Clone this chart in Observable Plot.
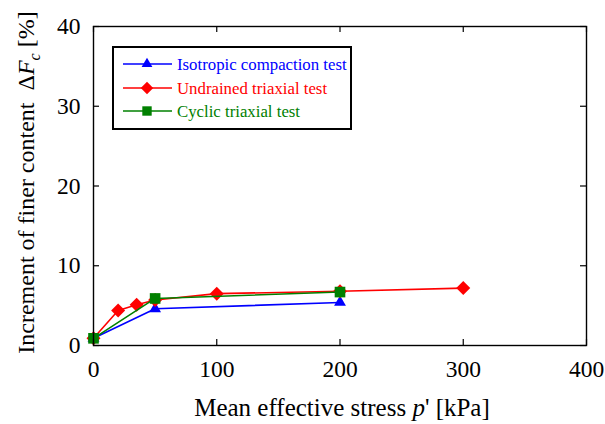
<!DOCTYPE html>
<html>
<head>
<meta charset="utf-8">
<script src="https://cdn.jsdelivr.net/npm/d3@7"></script>
<script src="https://cdn.jsdelivr.net/npm/@observablehq/plot@0.6"></script>
<style>
  body { margin: 0; background: #fff; }
  #chart svg { display: block; background: #fff; overflow: visible; }
</style>
</head>
<body>
<div id="chart"></div>
<script>
// Tick values
const xTicks = [0, 100, 200, 300, 400];
const yTicks = [0, 10, 20, 30, 40];

// Isotropic compaction test
const isoP = [0, 50, 200];
const isoDF = [0.9, 4.6, 5.4];

// Undrained triaxial test
const undP = [0, 20, 35, 50, 100, 200, 300];
const undDF = [0.9, 4.4, 5.1, 5.7, 6.5, 6.8, 7.2];

// Cyclic triaxial test
const cycP = [0, 50, 200];
const cycDF = [0.9, 5.9, 6.7];

const seriesNames = ["Isotropic compaction test", "Undrained triaxial test", "Cyclic triaxial test"];
const seriesColors = ["#0000ff", "#ff0000", "#008000"];
const seriesSymbols = ["triangle", "diamond2", "square"];
const seriesR = [4.4, 6.3, 6.0];

const toRows = (P, F) => P.map((p, i) => ({p, df: F[i]}));
const series = [toRows(isoP, isoDF), toRows(undP, undDF), toRows(cycP, cycDF)];

const W = 605, H = 424;
const mTop = 26, mRight = 19, mBottom = 79, mLeft = 93;
const frameH = H - mTop - mBottom, frameW = W - mLeft - mRight;
const tick = 6;
const font = "'Liberation Serif', 'Times New Roman', serif";

const marks = [];
series.forEach((rows, i) => {
  marks.push(Plot.line(rows, {x: "p", y: "df", stroke: seriesColors[i], strokeWidth: 1.6}));
  marks.push(Plot.dot(rows, {x: "p", y: "df", symbol: () => seriesSymbols[i], r: seriesR[i], fill: seriesColors[i], stroke: "none"}));
});

const plot = Plot.plot({
  width: W, height: H,
  marginTop: mTop, marginRight: mRight, marginBottom: mBottom, marginLeft: mLeft,
  style: {fontFamily: font, background: "#fff"},
  x: {domain: [0, 400]},
  y: {domain: [0, 40]},
  symbol: {domain: seriesSymbols, range: seriesSymbols},
  marks: [
    ...marks,
    // inward ticks on all four sides
    Plot.ruleX(xTicks, {x: d => d, insetTop: frameH - tick, stroke: "#000", strokeWidth: 1.2}),
    Plot.ruleX(xTicks, {x: d => d, insetBottom: frameH - tick, stroke: "#000", strokeWidth: 1.2}),
    Plot.ruleY(yTicks, {y: d => d, insetRight: frameW - tick, stroke: "#000", strokeWidth: 1.2}),
    Plot.ruleY(yTicks, {y: d => d, insetLeft: frameW - tick, stroke: "#000", strokeWidth: 1.2}),
    Plot.frame({stroke: "#000", strokeWidth: 1.4}),
    Plot.axisX({ticks: xTicks, tickSize: 0, tickPadding: 15, fontSize: 23.5, label: null, fill: "#000"}),
    Plot.axisY({ticks: yTicks, tickSize: 0, tickPadding: 13, fontSize: 23.5, label: null, fill: "#000"})
  ]
});

document.getElementById("chart").appendChild(plot);

const svg = d3.select(plot);

// x-axis title
const xt = svg.append("text")
  .attr("x", 342).attr("y", 416)
  .attr("text-anchor", "middle")
  .attr("font-family", font).attr("font-size", 25).attr("fill", "#000");
xt.append("tspan").text("Mean effective stress ");
xt.append("tspan").attr("font-style", "italic").text("p");
xt.append("tspan").text("' [kPa]");

// y-axis title
const yt = svg.append("text")
  .attr("transform", `translate(34,182.5) rotate(-90)`)
  .attr("text-anchor", "middle")
  .attr("font-family", font).attr("font-size", 24).attr("fill", "#000");
yt.append("tspan").text("Increment of finer content  \u0394");
yt.append("tspan").attr("font-style", "italic").text("F");
yt.append("tspan").attr("font-style", "italic").attr("font-size", 16).attr("dy", 6).text("c");
yt.append("tspan").attr("dy", -6).text(" [%]");

// legend, using the same symbol shapes as the plotted markers
const lg = svg.append("g");
lg.append("rect").attr("x", 113).attr("y", 47).attr("width", 238).attr("height", 82)
  .attr("fill", "#fff").attr("stroke", "#000").attr("stroke-width", 2);
const symTypes = {triangle: d3.symbolTriangle, diamond2: d3.symbolDiamond2, square: d3.symbolSquare};
const legendR = [4.0, 5.6, 5.3];
seriesNames.forEach((name, i) => {
  const y = [64, 88, 111][i];
  lg.append("line").attr("x1", 123).attr("x2", 172).attr("y1", y).attr("y2", y)
    .attr("stroke", seriesColors[i]).attr("stroke-width", 1.6);
  lg.append("path")
    .attr("d", d3.symbol(symTypes[seriesSymbols[i]], Math.PI * legendR[i] * legendR[i])())
    .attr("transform", `translate(147,${y})`)
    .attr("fill", seriesColors[i]);
  lg.append("text").attr("x", 177).attr("y", y + 5.5)
    .attr("text-anchor", "start")
    .attr("font-family", font).attr("font-size", 16.8).attr("fill", seriesColors[i]).text(name);
});
</script>
</body>
</html>
